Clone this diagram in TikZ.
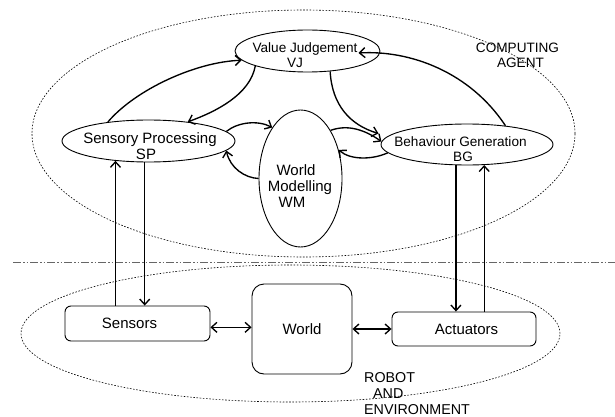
\documentclass[tikz,border=0pt]{standalone}
\usepackage{fontspec}
\setmainfont{Liberation Sans}
\usetikzlibrary{shapes.geometric,arrows.meta,calc}

\begin{document}
\begin{tikzpicture}[x=1pt,y=-1pt,
  oval/.style={ellipse, draw=black, line width=0.9pt, inner sep=0pt},
  zone/.style={ellipse, draw=black, line width=0.6pt, dash pattern=on 1.6pt off 1.6pt, inner sep=0pt},
  box/.style={draw=black, line width=0.9pt, rounded corners=6pt, inner sep=0pt,
              font=\fontsize{15}{16}\selectfont},
  lblsmall/.style={align=center, inner sep=0pt, font=\fontsize{13.6}{15}\selectfont},
  lblbig/.style={align=center, inner sep=0pt, font=\fontsize{15}{16}\selectfont},
  barb/.tip={Straight Barb[length=5.5pt,width=10pt]},
  link/.style={line width=1.35pt, -barb},
  both/.style={line width=1.35pt, barb-barb},
  divider/.style={draw=black!60, line width=1pt,
                  dash pattern=on 8pt off 2pt on 1.5pt off 2pt on 1.5pt off 2pt}
]
\fill[white] (0,0) rectangle (615,417);
\useasboundingbox (0,0) rectangle (615,417);

% dotted regions: computing agent above, robot and environment below
\node[zone, minimum width=543, minimum height=247] (agentzone) at (303.5,133.5) {};
\node[zone, minimum width=539, minimum height=137] (envzone) at (290.5,333.5) {};

% dash-dot boundary between the two regions
\coordinate (divL) at (13,262);
\coordinate (divR) at (615,262);
\draw[divider] (divL) -- (divR);

% functional modules
\node[oval, minimum width=145, minimum height=42] (vj) at (307.5,51) {};
\node[oval, minimum width=173, minimum height=42] (sp) at (148.5,141) {};
\node[oval, minimum width=172, minimum height=41] (bg) at (467,144.5) {};
\node[oval, minimum width=83, minimum height=137] (wm) at (300.5,178.5) {};

\node[lblsmall] (vjt) at (305,55.5) {Value Judgement\\VJ\hspace*{20pt}};
\node[lblbig] (spt) at (150,146) {Sensory Processing\\SP\hspace*{8pt}};
\node[lblsmall] (bgt) at (460.5,149) {Behaviour Generation\\\hspace*{5pt}BG};
\node[lblbig] (wmt) at (300,186) {World\hspace*{8pt}\\Modelling\\WM\hspace*{16pt}};

% physical side
\node[box, minimum width=145, minimum height=35] (sens) at (137.5,323.5) {Sensors\hspace*{16pt}};
\node[box, rounded corners=12pt, minimum width=100, minimum height=90] (world) at (302,329) {World};
\node[box, minimum width=144, minimum height=34] (act) at (464,329) {\hspace*{5pt}Actuators};

% region captions
\node[lblsmall] (agentcap) at (517.5,55.5) {COMPUTING\\\hspace*{6pt}AGENT};
\node[align=left, inner sep=0pt, anchor=west, font=\fontsize{14.3}{16}\selectfont]
  (envcap) at (364,394) {ROBOT\\\hspace*{9pt}AND\\ENVIRONMENT};

% links among the modules
\draw[link] (sp.155) .. controls (135,90) and (195,62) .. (vj.188);
\draw[link] (vj.196) .. controls (250,95) and (215,112) .. (sp.26);
\draw[link] (sp.7) .. controls (238,122) and (258,120) .. (wm.119);
\draw[link] (wm.180) .. controls (245,178) and (230,168) .. (sp.-7);
\draw[link] (vj.-42) .. controls (332,105) and (350,125) .. ($(bg.west)+(-2,-11)$);
\draw[link] (wm.58) .. controls (348,124) and (365,130) .. (bg.178);
\draw[link] (bg.186) .. controls (372,160) and (350,160) .. (wm.37);
\draw[link] (bg.26) .. controls (470,72) and (410,50) .. ($(vj.center)+(51,2)$);

% links across the boundary
\draw[link] (sp.211 |- sens.north) -- (sp.211);
\draw[link] (sp.260) -- (sp.260 |- sens.north);
\draw[link] (bg.242) -- (bg.242 |- act.north);
\draw[link] (bg.-50 |- act.north) -- (bg.-50);

% exchanges with the world
\draw[both] (sens.-3) -- (sens.-3 -| world.west);
\draw[both] (world.east) -- (act.west |- world.east);
\end{tikzpicture}
\end{document}
